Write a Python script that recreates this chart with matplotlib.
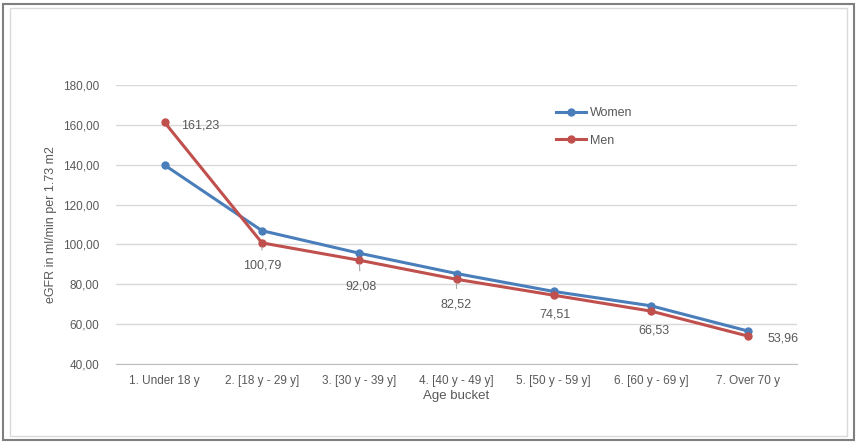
import matplotlib
matplotlib.use("Agg")
import matplotlib.pyplot as plt
from matplotlib.patches import Rectangle

categories = ["1. Under 18 y", "2. [18 y - 29 y]", "3. [30 y - 39 y]", "4. [40 y - 49 y]",
              "5. [50 y - 59 y]", "6. [60 y - 69 y]", "7. Over 70 y"]
women = [139.8, 106.9, 95.6, 85.4, 76.4, 69.2, 56.5]
men = [161.23, 100.79, 92.08, 82.52, 74.51, 66.53, 53.96]
men_labels = ["161,23", "100,79", "92,08", "82,52", "74,51", "66,53", "53,96"]
yticks = [40, 60, 80, 100, 120, 140, 160, 180]

plt.rcParams['font.family'] = ['Liberation Sans', 'DejaVu Sans']
text_col = '#595959'

fig = plt.figure(figsize=(8.61, 4.45), dpi=100)
fig.patches.append(Rectangle((0.004, 0.011), 0.988, 0.98, transform=fig.transFigure,
                             fill=False, edgecolor='#7f7f7f', linewidth=1.5))
fig.patches.append(Rectangle((0.012, 0.02), 0.972, 0.962, transform=fig.transFigure,
                             fill=False, edgecolor='#d9d9d9', linewidth=1.0))

ax = fig.add_axes([0.1347, 0.182, 0.791, 0.627])
x = list(range(len(categories)))
ax.plot(x, women, '-o', color='#4a7ebb', linewidth=2.2, markersize=5, label='Women', zorder=3)
ax.plot(x, men, '-o', color='#c0504d', linewidth=2.2, markersize=5, label='Men', zorder=3)

ax.set_xlim(-0.5, len(categories) - 0.5)
ax.set_ylim(40, 180)
ax.set_yticks(yticks)
ax.set_yticklabels([f"{v:.2f}".replace('.', ',') for v in yticks])
ax.set_xticks(x)
ax.set_xticklabels(categories)
ax.grid(axis='y', color='#d9d9d9', linewidth=1)
ax.set_axisbelow(True)
for s in ['top', 'right', 'left']:
    ax.spines[s].set_visible(False)
ax.spines['bottom'].set_color('#bfbfbf')
ax.tick_params(length=0, labelsize=8.5, colors=text_col, pad=8)
ax.tick_params(axis='y', pad=12)
ax.set_ylabel('eGFR in ml/min per 1.73 m2', fontsize=9, color=text_col, labelpad=4)
ax.set_xlabel('Age bucket', fontsize=9.5, color=text_col, labelpad=2)

# data labels for Men (offsets in points)
offsets = [(12, -2), (0, -16.5), (1, -19), (0, -18), (1, -14), (2, -14), (14, -2)]
leader = [False, True, True, True, False, False, False]
for i, (v, lab) in enumerate(zip(men, men_labels)):
    dx, dy = offsets[i]
    ha = 'left' if dx > 5 else 'center'
    arrow = None
    if leader[i]:
        arrow = dict(arrowstyle='-', color='#a6a6a6', lw=0.8, shrinkA=5, shrinkB=3)
    ax.annotate(lab, (i, v), xytext=(dx, dy), textcoords='offset points',
                ha=ha, va='center', fontsize=9, color=text_col, arrowprops=arrow)

leg = ax.legend(loc='upper left', bbox_to_anchor=(0.63, 0.961), frameon=False,
                fontsize=9, labelspacing=1.24, handlelength=2.4, handletextpad=0.3)
for t in leg.get_texts():
    t.set_color(text_col)

fig.savefig('out.png', dpi=100)
